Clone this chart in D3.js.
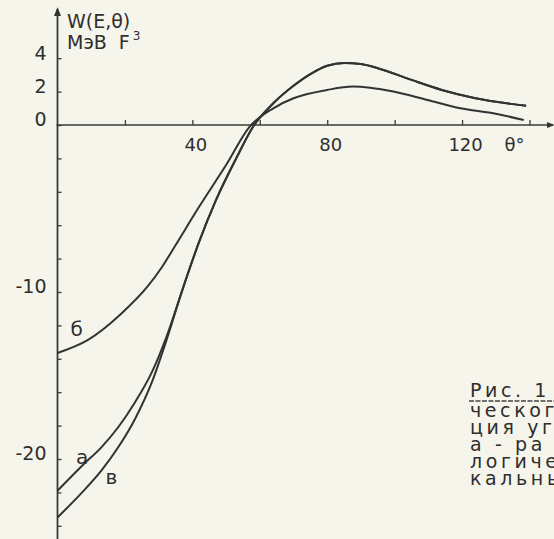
<!DOCTYPE html>
<html>
<head>
<meta charset="utf-8">
<script src="https://cdn.jsdelivr.net/npm/d3@7"></script>
<style>
  body { margin: 0; background: #f6f5ec; }
  svg { display: block; }
  text { font-family: "DejaVu Sans", sans-serif; fill: #2e2e2e; }
</style>
</head>
<body>
<div class="chart"></div>
<script>
// chart size
const WIDTH = 554;
const HEIGHT = 539;

// curve a
const thetaA = [0, 7.3, 13, 18, 23, 28, 32.3, 37, 42, 47, 53, 58, 64, 70, 75, 80, 85, 90, 95, 105, 114, 124, 139];
const wA = [-21.9, -20.4, -19.3, -18.1, -16.6, -14.8, -12.7, -9.9, -7.0, -4.5, -2.0, -0.1, 1.3, 2.35, 3.05, 3.55, 3.72, 3.65, 3.4, 2.7, 2.1, 1.6, 1.15];

// curve в
const thetaV = [0, 7.3, 13, 18, 23, 28, 32.3, 37, 42, 47, 53, 58, 64, 70, 75, 80, 85, 90, 95, 105, 114, 124, 139];
const wV = [-23.5, -22.0, -20.7, -19.3, -17.6, -15.4, -12.9, -9.9, -7.0, -4.5, -2.0, -0.1, 1.3, 2.35, 3.05, 3.55, 3.72, 3.65, 3.4, 2.7, 2.1, 1.6, 1.15];

// curve б
const thetaB = [0, 8.8, 18.9, 26.6, 31, 35, 42, 50, 57, 64, 70, 80, 87.6, 99.6, 109.7, 119.5, 129.3, 138.3];
const wB = [-13.65, -12.9, -11.3, -9.7, -8.5, -7.2, -4.9, -2.4, -0.1, 1.0, 1.6, 2.1, 2.3, 2.0, 1.5, 1.0, 0.7, 0.3];

// ticks and labels
const xTicks = [20, 40, 60, 80, 100, 120, 140];
const xLabels = [40, 80, 120];
const yTicks = d3.range(-24, 5, 2);
const yLabels = [4, 2, 0, -10, -20];

// curve labels [text, theta, W]
const curveLabels = [["б", 5.7, -12.2], ["a", 7.3, -19.9], ["в", 16, -21.1]];

// caption lines (cut by the right edge)
const caption = ["ческог", "ция уг", "а - ра", "логиче", "кальны"];

const svg = d3.select(".chart")
  .append("svg")
  .attr("width", WIDTH)
  .attr("height", HEIGHT);

svg.append("rect").attr("width", WIDTH).attr("height", HEIGHT).attr("fill", "#f6f5ec");

// scales
const x = d3.scaleLinear().domain([0, 140]).range([57.5, 529.5]);
const y = d3.scaleLinear().domain([0, -20]).range([125, 459]);

// arrow heads
const defs = svg.append("defs");
defs.append("marker")
  .attr("id", "arrow")
  .attr("viewBox", "0 0 10 10")
  .attr("refX", 8).attr("refY", 5)
  .attr("markerWidth", 5).attr("markerHeight", 5)
  .attr("orient", "auto")
  .append("path")
  .attr("d", "M0,1 L10,5 L0,9 Z")
  .attr("fill", "#333");

// axis lines
svg.append("line")
  .attr("x1", x(0) - 1).attr("x2", 553)
  .attr("y1", y(0)).attr("y2", y(0))
  .attr("stroke", "#3a3a3a").attr("stroke-width", 1.6)
  .attr("marker-end", "url(#arrow)");

svg.append("line")
  .attr("x1", x(0)).attr("x2", x(0))
  .attr("y1", HEIGHT).attr("y2", 9)
  .attr("stroke", "#3a3a3a").attr("stroke-width", 1.8)
  .attr("marker-end", "url(#arrow)");

// x axis ticks (upward) and labels below
const xAxis = svg.append("g")
  .attr("transform", `translate(0,${y(0)})`)
  .call(
    d3.axisBottom(x)
      .tickValues(xTicks)
      .tickSizeInner(-5)
      .tickSizeOuter(0)
      .tickPadding(13)
      .tickFormat((d) => (xLabels.includes(d) ? d : ""))
  );
xAxis.select(".domain").remove();
xAxis.selectAll("line").attr("stroke", "#3a3a3a").attr("stroke-width", 1.3);
xAxis.selectAll("text")
  .attr("font-size", 18)
  .attr("dx", 3)
  .attr("font-family", "DejaVu Sans")
  .attr("fill", "#2e2e2e");

// theta label
svg.append("text")
  .attr("x", x(140) - 25)
  .attr("y", y(0) + 26)
  .attr("font-size", 18)
  .text("θ°");

// y axis ticks (to the right) and labels on the left
const yAxis = svg.append("g")
  .attr("transform", `translate(${x(0)},0)`)
  .call(
    d3.axisLeft(y)
      .tickValues(yTicks)
      .tickSizeInner(-4)
      .tickSizeOuter(0)
      .tickPadding(11)
      .tickFormat((d) => (yLabels.includes(d) ? d : ""))
  );
yAxis.select(".domain").remove();
yAxis.selectAll("line").attr("stroke", "#3a3a3a").attr("stroke-width", 1.3);
yAxis.selectAll("text")
  .attr("font-size", 19)
  .attr("dy", "0.05em")
  .attr("font-family", "DejaVu Sans")
  .attr("fill", "#2e2e2e");

// axis title
svg.append("text").attr("x", 67).attr("y", 28).attr("font-size", 19).text("W(E,θ)");
const unit = svg.append("text").attr("x", 67).attr("y", 49).attr("font-size", 19);
unit.append("tspan").text("МэВ");
unit.append("tspan").attr("dx", 12).text("F");
unit.append("tspan").attr("dy", -9).attr("dx", 3).attr("font-size", 12).text("3");

// curves
const line = d3.line()
  .x((d) => x(d[0]))
  .y((d) => y(d[1]))
  .curve(d3.curveMonotoneX);

[[thetaB, wB], [thetaA, wA], [thetaV, wV]].forEach(([t, w]) => {
  svg.append("path")
    .datum(t.map((v, i) => [v, w[i]]))
    .attr("d", line)
    .attr("fill", "none")
    .attr("stroke", "#333")
    .attr("stroke-width", 2);
});

// curve labels
svg.selectAll(".clabel")
  .data(curveLabels)
  .enter()
  .append("text")
  .attr("class", "clabel")
  .attr("x", (d) => x(d[1]))
  .attr("y", (d) => y(d[2]))
  .attr("font-size", 20)
  .attr("text-anchor", "middle")
  .attr("dy", "0.35em")
  .text((d) => d[0]);

// caption on the right
const capG = svg.append("g");
capG.append("text")
  .attr("x", 470).attr("y", 397)
  .attr("font-size", 19)
  .attr("letter-spacing", 3.6)
  .attr("font-family", "DejaVu Sans Mono")
  .text("Рис. 1");
capG.append("line")
  .attr("x1", 469).attr("x2", 554)
  .attr("y1", 401).attr("y2", 401)
  .attr("stroke", "#444").attr("stroke-width", 1.4)
  .attr("stroke-dasharray", "5,1.5");
capG.selectAll(".cap")
  .data(caption)
  .enter()
  .append("text")
  .attr("class", "cap")
  .attr("x", 470)
  .attr("y", (d, i) => 417 + i * 17)
  .attr("font-size", 19)
  .attr("letter-spacing", 3.6)
  .attr("font-family", "DejaVu Sans Mono")
  .text((d) => d);
</script>
</body>
</html>
